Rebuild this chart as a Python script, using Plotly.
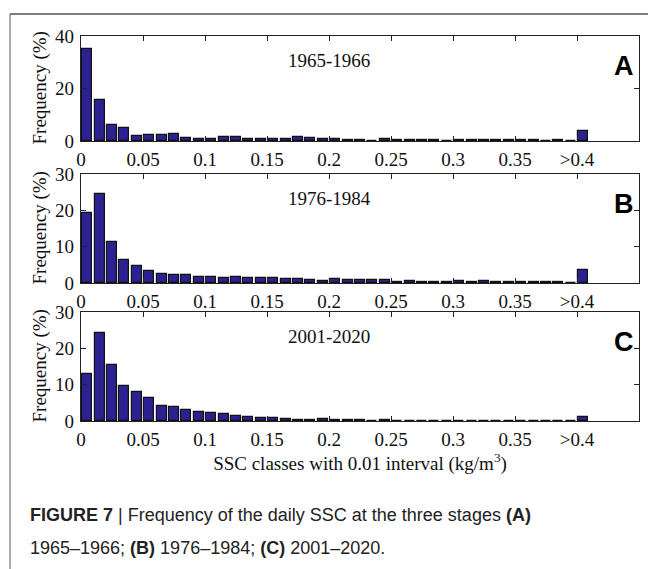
import plotly.graph_objects as go

# SSC class centres (kg/m3): 0.005 ... 0.395 plus the ">0.4" class at 0.405
class_centres = [round(0.005 + 0.01 * k, 3) for k in range(41)]

freq_1965_1966 = [35.0, 15.5, 6.2, 5.0, 2.0, 2.4, 2.3, 2.7, 1.3, 0.8,
                  0.8, 1.5, 1.5, 0.9, 0.9, 0.6, 0.9, 1.5, 1.0, 0.9,
                  0.9, 0.5, 0.3, 0.0, 0.6, 0.3, 0.3, 0.3, 0.3, 0.0,
                  0.5, 0.3, 0.3, 0.3, 0.5, 0.3, 0.3, 0.0, 0.3, 0.0,
                  3.8]
freq_1976_1984 = [19.2, 24.5, 11.3, 6.2, 4.6, 3.3, 2.5, 2.1, 2.1, 1.7,
                  1.6, 1.4, 1.7, 1.3, 1.3, 1.3, 1.2, 1.0, 0.8, 0.5,
                  1.1, 0.8, 0.8, 0.7, 0.8, 0.4, 0.6, 0.4, 0.2, 0.4,
                  0.5, 0.4, 0.5, 0.3, 0.3, 0.4, 0.3, 0.3, 0.2, 0.1,
                  3.6]
freq_2001_2020 = [12.8, 24.2, 15.4, 9.7, 7.9, 6.2, 4.1, 3.8, 3.0, 2.6,
                  2.1, 1.9, 1.5, 1.2, 0.8, 0.7, 0.5, 0.4, 0.3, 0.5,
                  0.2, 0.2, 0.2, 0.1, 0.2, 0.1, 0.1, 0.1, 0.1, 0.1,
                  0.1, 0.1, 0.1, 0.1, 0.1, 0.1, 0.1, 0.1, 0.1, 0.0,
                  1.0]

periods = ["1965-1966", "1976-1984", "2001-2020"]
panel_letters = ["A", "B", "C"]
x_tick_vals = [0, 0.05, 0.1, 0.15, 0.2, 0.25, 0.3, 0.35, 0.4]
x_tick_text = ["0", "0.05", "0.1", "0.15", "0.2", "0.25", "0.3", "0.35", ">0.4"]
y_ticks = [[0, 20, 40], [0, 10, 20, 30], [0, 10, 20, 30]]
y_ranges = [[0, 40], [0, 30], [0, 30]]

series = [freq_1965_1966, freq_1976_1984, freq_2001_2020]

SERIF = "Liberation Serif, Times New Roman, serif"
SANS = "Liberation Sans, Arial, sans-serif"
BAR_COLOR = "#2c2190"

W, H = 648, 569
ML, MR, MT, MB = 81, 9, 36, 148
PH = H - MT - MB
PW = W - ML - MR

def py(pix):
    return (H - MB - pix) / PH

def px(pix):
    return (pix - ML) / PW

domains = [[py(141), 1.0], [py(283), py(174)], [0.0, py(312)]]

fig = go.Figure()
for i, vals in enumerate(series):
    xa = "x" if i == 0 else f"x{i+1}"
    ya = "y" if i == 0 else f"y{i+1}"
    fig.add_trace(go.Bar(
        x=class_centres, y=vals, width=0.0082,
        marker=dict(color=BAR_COLOR, line=dict(color="#111111", width=1.2)),
        xaxis=xa, yaxis=ya, showlegend=False,
    ))

axis_common = dict(showline=True, linecolor="#222", linewidth=1.2, mirror="ticks",
                   ticks="inside", ticklen=5, tickcolor="#222", showgrid=False,
                   zeroline=False,
                   tickfont=dict(family=SERIF, size=19, color="#111"))

layout = dict(width=W, height=H, margin=dict(l=ML, r=MR, t=MT, b=MB),
              plot_bgcolor="white", paper_bgcolor="white", bargap=0)

for i in range(3):
    sx = "" if i == 0 else str(i + 1)
    layout[f"xaxis{sx}"] = dict(axis_common, range=[0, 0.45], tickvals=x_tick_vals,
                                ticktext=x_tick_text, anchor=f"y{sx}",
                                domain=[0, 1], ticklabelstandoff=1)
    layout[f"yaxis{sx}"] = dict(axis_common, range=y_ranges[i], tickvals=y_ticks[i],
                                anchor=f"x{sx}", domain=domains[i], ticklabelstandoff=2)

layout["xaxis3"]["title"] = dict(text="SSC classes with 0.01 interval (kg/m<sup>3</sup>)",
                                 font=dict(family=SERIF, size=19, color="#111"),
                                 standoff=0)

fig.update_layout(**layout)

annotations = []
for i in range(3):
    sx = "" if i == 0 else str(i + 1)
    d = domains[i]
    annotations.append(dict(xref=f"x{sx}", yref="paper", x=0.2, y=d[1] - 0.03,
                            text=periods[i], showarrow=False, yanchor="top",
                            xanchor="center",
                            font=dict(family=SERIF, size=19, color="#111")))
    annotations.append(dict(xref="paper", yref="paper", x=px(636), y=d[1] - 0.033,
                            text=f"<b>{panel_letters[i]}</b>", showarrow=False,
                            xanchor="right", yanchor="top",
                            font=dict(family=SANS, size=27, color="#000")))
    annotations.append(dict(xref="paper", yref="paper", x=px(39),
                            y=(d[0] + d[1]) / 2, text="Frequency (%)", textangle=-90,
                            showarrow=False, xanchor="center", yanchor="middle",
                            font=dict(family=SERIF, size=19, color="#111")))

annotations.append(dict(xref="paper", yref="paper", x=px(28),
                        y=py(515), xanchor="left", yanchor="middle", showarrow=False,
                        align="left",
                        text="<b>FIGURE 7</b> | Frequency of the daily SSC at the three stages <b>(A)</b>",
                        font=dict(family=SANS, size=18, color="#222")))
annotations.append(dict(xref="paper", yref="paper", x=px(28),
                        y=py(548), xanchor="left", yanchor="middle", showarrow=False,
                        align="left",
                        text="1965–1966; <b>(B)</b> 1976–1984; <b>(C)</b> 2001–2020.",
                        font=dict(family=SANS, size=18, color="#222")))
fig.update_layout(annotations=annotations)

# figure frame lines (left and top border of the page)
fig.add_shape(type="line", xref="paper", yref="paper",
              x0=px(10), x1=px(10), y0=py(14), y1=py(H + 5),
              line=dict(color="#aaaaaa", width=2))
fig.add_shape(type="line", xref="paper", yref="paper",
              x0=px(10), x1=px(W + 5), y0=py(14), y1=py(14),
              line=dict(color="#555555", width=1.5))

fig.write_html("out.html")
